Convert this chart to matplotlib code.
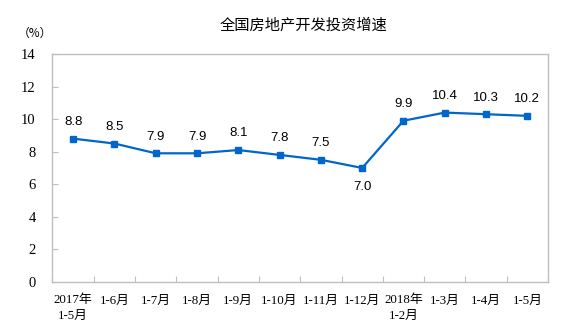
import matplotlib.pyplot as plt
import numpy as np

# 全国房地产开发投资增速 (累计同比, %)
periods = ["2017年\n1-5月", "1-6月", "1-7月", "1-8月", "1-9月", "1-10月",
           "1-11月", "1-12月", "2018年\n1-2月", "1-3月", "1-4月", "1-5月"]
growth = [8.8, 8.5, 7.9, 7.9, 8.1, 7.8, 7.5, 7.0, 9.9, 10.4, 10.3, 10.2]
yticks = [0, 2, 4, 6, 8, 10, 12, 14]

sans = ["Liberation Sans", "Noto Sans CJK SC"]
serif = ["Liberation Serif", "Noto Sans CJK SC"]
plt.rcParams["font.family"] = sans

fig = plt.figure(figsize=(5.83, 3.29), dpi=100)
ax = fig.add_axes([0.090, 0.143, 0.850, 0.693])

x = np.arange(len(growth))
ax.plot(x, growth, color="#0066CC", lw=1.6, marker="s", ms=4.5,
        markerfacecolor="#0066CC", markeredgecolor="#0066CC")

for xi, v in zip(x, growth):
    dy = -14 if v == 7.0 else 12
    ax.annotate(f"{v:.1f}", (xi, v), xytext=(0, dy), textcoords="offset points",
                ha="center", va="center", fontsize=9.5, family=sans)

ax.set_xlim(-0.5, len(growth) - 0.5)
ax.set_ylim(0, 14)
ax.set_yticks(yticks)
ax.set_yticklabels([str(t) for t in yticks], family=serif, fontsize=10.5)

# 刻度线放在分类之间
ax.set_xticks(np.arange(len(growth) + 1) - 0.5, minor=False)
ax.set_xticklabels([])
ax.set_xticks(x, minor=True)
ax.set_xticklabels(periods, minor=True, family=serif, fontsize=9.3,
                   linespacing=1.35)
ax.tick_params(axis="x", which="minor", length=0, pad=9)
ax.tick_params(axis="x", which="major", direction="in", length=4, color="#BFBFBF")
ax.tick_params(axis="y", direction="in", length=4, color="#BFBFBF", pad=12)

for s in ax.spines.values():
    s.set_color("#BFBFBF")
    s.set_linewidth(1.0)

fig.text(0.52, 0.925, "全国房地产开发投资增速", ha="center", va="center",
         fontsize=11, family=["Noto Sans CJK SC"])
fig.text(0.060, 0.900, "（%）", ha="center", va="center", fontsize=8.5,
         family=["Noto Sans CJK SC"])

fig.savefig("out.png", dpi=100)
